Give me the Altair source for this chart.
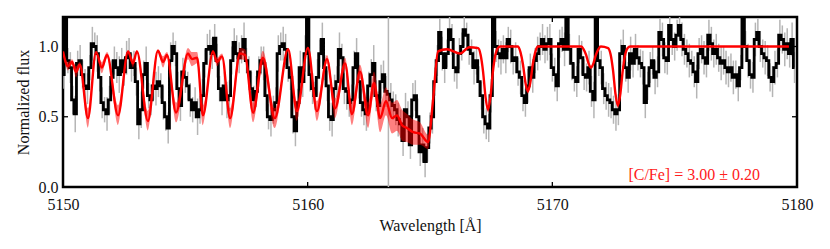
import altair as alt
import numpy as np
import pandas as pd

# ---------------- observed spectrum (0.1 A sampling from 5150.0) ----------------
obs_start = 5150.0
obs_step = 0.1
obs_flux = [
    0.80, 1.22, 0.90, 0.85, 0.62, 0.52, 0.88, 0.90, 0.80, 0.72,
    0.70, 0.85, 1.02, 1.00, 0.95, 0.78, 0.60, 0.55, 0.52, 0.62,
    0.78, 0.90, 0.85, 0.80, 0.90, 0.82, 0.92, 0.95, 0.85, 0.88,
    0.75, 0.45, 0.55, 0.80, 0.88, 0.65, 0.62, 0.72, 0.70, 0.75,
    0.72, 0.60, 0.50, 0.42, 0.90, 1.00, 0.95, 0.70, 0.58, 0.82,
    0.78, 0.72, 0.62, 0.55, 0.60, 0.50, 0.55, 0.65, 0.88, 0.98,
    1.00, 0.95, 1.06, 0.90, 0.70, 0.62, 0.72, 0.62, 0.65, 0.90,
    1.03, 0.95, 0.92, 0.98, 1.05, 0.90, 0.82, 0.70, 0.62, 0.68,
    0.82, 0.90, 0.88, 0.65, 0.50, 0.48, 0.55, 0.60, 0.95, 1.00,
    1.02, 0.98, 0.85, 0.78, 0.50, 0.40, 0.60, 0.85, 0.75, 0.95,
    1.22, 0.80, 0.70, 0.65, 0.78, 0.95, 1.05, 0.85, 0.72, 0.50,
    0.48, 0.70, 0.75, 0.98, 0.92, 0.70, 0.68, 0.60, 0.62, 0.85,
    0.95, 0.75, 0.60, 0.55, 0.52, 0.72, 0.80, 0.88, 0.65, 0.58,
    0.75, 0.80, 0.68, 0.66, 0.62, 0.58, 0.55, 0.48, 0.45, 0.33,
    0.55, 0.50, 0.30, 0.62, 0.65, 0.50, 0.25, 0.30, 0.18, 0.28,
    0.42, 0.50, 0.75, 0.90, 1.10, 0.95, 0.85, 0.95, 1.12, 1.05,
    0.85, 0.82, 0.95, 1.00, 1.12, 1.08, 0.98, 0.95, 0.85, 0.90,
    0.75, 0.65, 0.50, 0.45, 0.42, 0.65, 1.22, 1.00, 0.95, 0.92,
    0.98, 0.92, 1.05, 1.00, 0.90, 0.92, 0.82, 0.78, 0.65, 0.60,
    0.72, 0.85, 0.78, 0.90, 0.95, 1.00, 1.05, 0.98, 1.02, 1.05,
    0.85, 0.80, 0.72, 1.02, 1.05, 0.98, 1.22, 0.98, 0.88, 0.78,
    0.75, 0.98, 0.92, 0.80, 0.78, 0.85, 0.68, 0.62, 1.22, 0.90,
    0.85, 0.70, 0.65, 0.62, 0.60, 0.55, 0.52, 0.55, 0.95, 1.00,
    0.85, 0.78, 0.95, 0.88, 0.98, 0.92, 0.88, 0.85, 0.60, 0.72,
    0.85, 0.90, 0.78, 0.82, 1.10, 1.05, 0.92, 0.90, 1.15, 1.05,
    1.00, 1.08, 1.15, 1.05, 0.98, 0.95, 0.90, 0.88, 0.82, 0.75,
    0.95, 0.98, 0.92, 0.88, 1.08, 1.02, 0.95, 0.98, 0.92, 0.88,
    0.90, 0.85, 0.82, 0.85, 0.78, 0.80, 0.72, 0.85, 1.22, 1.00,
    0.90, 0.80, 0.78, 1.05, 1.10, 1.00, 0.95, 0.92, 0.90, 0.78,
    0.75, 0.85, 0.88, 1.08, 1.05, 0.98, 1.02, 0.95, 1.05, 0.85,
]
obs_err = [
    0.10, 0.12, 0.09, 0.11, 0.10, 0.13, 0.09, 0.11, 0.10, 0.12,
    0.11, 0.09, 0.12, 0.10, 0.13, 0.10, 0.11, 0.09, 0.12, 0.10,
    0.12, 0.10, 0.11, 0.13, 0.09, 0.10, 0.12, 0.11, 0.10, 0.09,
    0.10, 0.11, 0.13, 0.10, 0.12, 0.09, 0.11, 0.10, 0.12, 0.11,
    0.09, 0.12, 0.10, 0.11, 0.13, 0.10, 0.09, 0.12, 0.11, 0.10,
    0.11, 0.10, 0.12, 0.09, 0.11, 0.13, 0.10, 0.12, 0.10, 0.11,
    0.12, 0.11, 0.10, 0.12, 0.09, 0.11, 0.10, 0.13, 0.11, 0.10,
    0.10, 0.13, 0.11, 0.10, 0.12, 0.09, 0.11, 0.12, 0.10, 0.11,
    0.11, 0.10, 0.12, 0.11, 0.09, 0.12, 0.10, 0.11, 0.13, 0.10,
    0.12, 0.11, 0.10, 0.09, 0.12, 0.11, 0.10, 0.12, 0.11, 0.13,
    0.10, 0.12, 0.11, 0.10, 0.13, 0.10, 0.12, 0.09, 0.11, 0.10,
    0.12, 0.10, 0.11, 0.12, 0.10, 0.11, 0.13, 0.10, 0.11, 0.12,
    0.11, 0.12, 0.10, 0.11, 0.12, 0.10, 0.11, 0.13, 0.11, 0.10,
    0.12, 0.10, 0.11, 1.60, 0.12, 0.10, 0.11, 0.12, 0.10, 0.11,
    0.12, 0.11, 0.10, 0.12, 0.11, 0.13, 0.10, 0.12, 0.11, 0.10,
    0.11, 0.12, 0.10, 0.11, 0.10, 0.12, 0.11, 0.10, 0.09, 0.11,
    0.10, 0.12, 0.11, 0.10, 0.12, 0.09, 0.11, 0.10, 0.12, 0.10,
    0.11, 0.10, 0.12, 0.11, 0.10, 0.12, 0.09, 0.11, 0.10, 0.12,
    0.10, 0.11, 0.09, 0.12, 0.10, 0.11, 0.10, 0.12, 0.11, 0.10,
    0.12, 0.10, 0.11, 0.09, 0.12, 0.10, 0.11, 0.10, 0.12, 0.11,
    0.10, 0.12, 0.11, 0.10, 0.09, 0.12, 0.10, 0.11, 0.12, 0.10,
    0.11, 0.10, 0.12, 0.11, 0.10, 0.12, 0.11, 0.13, 0.10, 0.11,
    0.12, 0.11, 0.10, 0.12, 0.11, 0.10, 0.12, 0.11, 0.10, 0.12,
    0.10, 0.11, 0.12, 0.10, 0.11, 0.09, 0.10, 0.12, 0.11, 0.10,
    0.11, 0.10, 0.12, 0.11, 0.10, 0.12, 0.11, 0.10, 0.09, 0.11,
    0.10, 0.11, 0.10, 0.12, 0.11, 0.10, 0.12, 0.09, 0.11, 0.12,
    0.11, 0.10, 0.12, 0.10, 0.11, 0.12, 0.10, 0.11, 0.10, 0.12,
    0.10, 0.12, 0.11, 0.10, 0.12, 0.10, 0.11, 0.09, 0.10, 0.11,
    0.12, 0.10, 0.11, 0.12, 0.10, 0.11, 0.10, 0.12, 0.11, 0.10,
    0.11, 0.12, 0.10, 0.11, 0.10, 0.12, 0.11, 0.10, 0.12, 0.11,
]

# ---------------- synthetic model ([C/Fe] = 3.00) ----------------
model_wave = [
    5150.00, 5150.20, 5150.37, 5150.53, 5150.69, 5151.02, 5151.35, 5151.59, 5151.80, 5152.25,
    5152.66, 5152.86, 5153.02, 5153.47, 5153.88, 5154.09, 5154.25, 5154.62, 5155.11, 5155.27,
    5155.48, 5155.72, 5156.13, 5156.29, 5156.50, 5156.83, 5157.23, 5157.44, 5157.77, 5158.17,
    5158.66, 5159.20, 5159.56, 5160.01, 5160.38, 5160.79, 5161.12, 5161.53, 5161.81, 5162.14,
    5162.47, 5162.71, 5162.96, 5163.20, 5163.45, 5163.65, 5163.86, 5164.06, 5164.31, 5164.59,
    5164.92, 5165.12, 5165.33, 5165.69, 5166.23, 5166.60,
    5166.97, 5167.07, 5167.17, 5167.27, 5167.37, 5167.47, 5167.57, 5167.67, 5167.77, 5167.87,
    5168.60, 5168.70, 5168.80, 5168.90, 5169.00, 5169.10, 5169.20, 5169.30, 5169.40,
    5171.18, 5171.28, 5171.38, 5171.48, 5171.58, 5171.68, 5171.78, 5171.88, 5171.98,
    5172.28, 5172.38, 5172.48, 5172.58, 5172.68, 5172.78, 5172.88, 5172.98, 5173.08, 5173.18,
    5179.67,
]
model_flux = [
    0.965, 0.86, 0.89, 0.82, 0.87, 0.49, 0.96, 0.85, 0.94, 0.51,
    0.965, 0.88, 0.965, 0.47, 0.97, 0.89, 0.94, 0.53, 0.95, 0.91,
    0.92, 0.51, 0.965, 0.89, 0.93, 0.49, 0.95, 0.94, 0.53, 0.92,
    0.49, 0.98, 0.54, 0.99, 0.54, 0.91, 0.56, 0.88, 0.52, 0.82,
    0.51, 0.74, 0.49, 0.61, 0.49, 0.51, 0.44, 0.42, 0.39, 0.38,
    0.32, 0.61, 0.965, 0.98, 0.95, 0.995,
    0.988, 0.94, 0.82, 0.64, 0.55, 0.64, 0.82, 0.94, 0.988, 1.0,
    1.0, 0.958, 0.872, 0.744, 0.68, 0.744, 0.872, 0.958, 1.0,
    1.0, 0.98, 0.94, 0.88, 0.85, 0.88, 0.94, 0.98, 1.0,
    0.989, 0.945, 0.832, 0.664, 0.58, 0.664, 0.832, 0.945, 0.989, 1.0,
    1.0,
]
model_err = [
    0.01, 0.03, 0.02, 0.04, 0.02, 0.07, 0.01, 0.04, 0.02, 0.07,
    0.01, 0.03, 0.01, 0.07, 0.01, 0.04, 0.02, 0.07, 0.04, 0.05,
    0.04, 0.07, 0.01, 0.03, 0.02, 0.07, 0.04, 0.04, 0.07, 0.05,
    0.07, 0.01, 0.07, 0.01, 0.07, 0.03, 0.07, 0.04, 0.08, 0.05,
    0.09, 0.08, 0.10, 0.10, 0.11, 0.11, 0.11, 0.10, 0.09, 0.08,
    0.05, 0.02, 0.01, 0.005, 0.005, 0.003,
    0.003, 0.005, 0.01, 0.015, 0.02, 0.015, 0.01, 0.005, 0.003, 0.002,
    0.002, 0.003, 0.008, 0.012, 0.015, 0.012, 0.008, 0.003, 0.002,
    0.002, 0.002, 0.004, 0.006, 0.008, 0.006, 0.004, 0.002, 0.002,
    0.003, 0.006, 0.01, 0.015, 0.02, 0.015, 0.01, 0.006, 0.003, 0.002,
    0.002,
]

x_ticks = [5150, 5160, 5170, 5180]
y_ticks = [0.0, 0.5, 1.0]
label_text = "[C/Fe] = 3.00 \u00b1 0.20"

# ---------------- tables ----------------
obs = pd.DataFrame({
    "wave": np.round(obs_start + obs_step * np.arange(len(obs_flux)), 2),
    "flux": obs_flux,
    "err": obs_err,
})
obs["lo"] = obs["flux"] - obs["err"]
obs["hi"] = obs["flux"] + obs["err"]

mod = pd.DataFrame({"wave": model_wave, "flux": model_flux, "err": model_err})
mod["lo"] = mod["flux"] - mod["err"]
mod["hi"] = mod["flux"] + mod["err"]

xt = pd.DataFrame({"x": x_ticks})
yt = pd.DataFrame({"y": y_ticks})

W, H = 734, 170
FONT = "Liberation Serif, DejaVu Serif, serif"

xscale = alt.Scale(domain=[5150, 5180], nice=False, zero=False)
yscale = alt.Scale(domain=[0, 1.21], nice=False, zero=False)

xax = alt.Axis(values=x_ticks, format="d", title="Wavelength [\u00c5]", grid=False,
               ticks=False, domain=False, labelPadding=9, titlePadding=5,
               labelFlush=False, labelOverlap=False,
               labelFontSize=16, titleFontSize=16, labelFont=FONT, titleFont=FONT,
               titleFontWeight="normal", labelColor="#111", titleColor="#111")
yax = alt.Axis(values=y_ticks, format=".1f", title="Normalized flux", grid=False,
               ticks=False, domain=False, labelPadding=5, titlePadding=7,
               labelFlush=False, labelOverlap=False,
               labelFontSize=16, titleFontSize=16, labelFont=FONT, titleFont=FONT,
               titleFontWeight="normal", labelColor="#111", titleColor="#111")

base_x = alt.X("wave:Q", scale=xscale, axis=xax)

errbars = alt.Chart(obs).mark_rule(color="#b5b5b5", strokeWidth=1.5, clip=True).encode(
    x=base_x,
    y=alt.Y("lo:Q", scale=yscale, axis=yax),
    y2="hi:Q",
)

obs_line = alt.Chart(obs).mark_line(color="black", strokeWidth=2.8, interpolate="step",
                                    clip=True).encode(
    x=alt.X("wave:Q", scale=xscale),
    y=alt.Y("flux:Q", scale=yscale),
)

band = alt.Chart(mod).mark_area(color="#ff0000", opacity=0.5, interpolate="monotone",
                                clip=True).encode(
    x=alt.X("wave:Q", scale=xscale),
    y=alt.Y("lo:Q", scale=yscale),
    y2="hi:Q",
)

model_line = alt.Chart(mod).mark_line(color="#ff0000", strokeWidth=2.4,
                                      interpolate="monotone", clip=True).encode(
    x=alt.X("wave:Q", scale=xscale),
    y=alt.Y("flux:Q", scale=yscale),
)

tick_style = dict(color="black", strokeWidth=1.3)
xt_bottom = alt.Chart(xt).mark_rule(**tick_style).encode(
    x=alt.X("x:Q", scale=xscale), y=alt.value(H - 5), y2=alt.value(H))
xt_top = alt.Chart(xt).mark_rule(**tick_style).encode(
    x=alt.X("x:Q", scale=xscale), y=alt.value(0), y2=alt.value(5))
yt_left = alt.Chart(yt).mark_rule(**tick_style).encode(
    y=alt.Y("y:Q", scale=yscale), x=alt.value(0), x2=alt.value(5))
yt_right = alt.Chart(yt).mark_rule(**tick_style).encode(
    y=alt.Y("y:Q", scale=yscale), x=alt.value(W - 5), x2=alt.value(W))

annot = alt.Chart(pd.DataFrame({"t": [label_text]})).mark_text(
    align="right", baseline="middle", color="#ff2020", font=FONT, fontSize=16
).encode(text="t:N", x=alt.value(697), y=alt.value(158))

chart = alt.layer(
    errbars, obs_line, band, model_line, xt_bottom, xt_top, yt_left, yt_right, annot
).properties(
    width=W, height=H,
    autosize=alt.AutoSizeParams(type="none"),
    padding={"left": 55, "top": 9, "right": 25, "bottom": 50},
).configure_view(
    stroke="black", strokeWidth=2.5
)

chart.save("out.html", embed_options={"renderer": "svg", "actions": False})
